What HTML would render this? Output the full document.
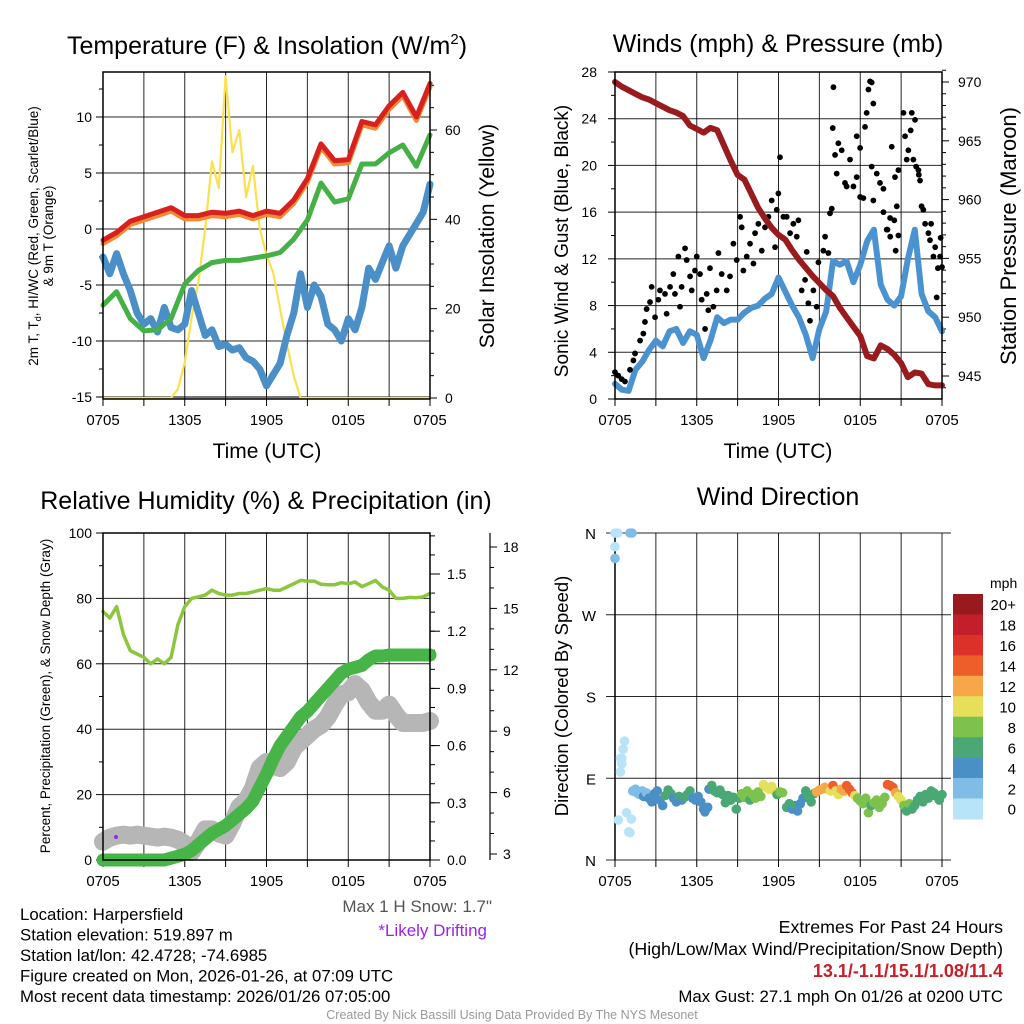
<!DOCTYPE html>
<html><head><meta charset="utf-8"><style>
html,body{margin:0;padding:0;background:#fff;}
svg{display:block;font-family:"Liberation Sans",Arial,sans-serif;}
</style></head><body>
<svg id="fig" width="1024" height="1024" viewBox="0 0 1024 1024">
<rect width="1024" height="1024" fill="#fff"/>
</svg>
<script>
// ---------- DATA ----------
const timeTickLabels = ["0705","1305","1905","0105","0705"];
const halfHours = [0,0.5,1,1.5,2,2.5,3,3.5,4,4.5,5,5.5,6,6.5,7,7.5,8,8.5,9,9.5,10,10.5,11,11.5,12,12.5,13,13.5,14,14.5,15,15.5,16,16.5,17,17.5,18,18.5,19,19.5,20,20.5,21,21.5,22,22.5,23,23.5,24];
const hours = [0,1,2,3,4,5,6,7,8,9,10,11,12,13,14,15,16,17,18,19,20,21,22,23,24];
// Panel 1
const temp2m = [-1.0,-0.3,0.7,1.1,1.5,1.9,1.2,1.2,1.5,1.4,1.6,1.2,1.6,1.4,2.6,4.5,7.6,6.1,6.2,9.6,9.3,11.0,12.2,10.0,13.0];
const temp9m = [-1.3,-0.6,0.4,0.8,1.2,1.6,0.9,0.9,1.2,1.1,1.3,0.9,1.3,1.1,2.3,4.2,7.3,5.8,5.9,9.3,9.0,10.7,11.9,9.7,12.7];
const dewpoint = [-6.8,-5.6,-8.0,-9.1,-9.0,-8.0,-4.9,-3.7,-3.0,-2.8,-2.8,-2.6,-2.4,-2.1,-0.9,0.8,4.1,2.4,2.7,5.8,5.8,6.8,7.5,5.6,8.4];
const windChill = [-2.5,-4.0,-2.2,-4.0,-5.5,-7.5,-8.5,-8.0,-9.2,-7.0,-8.8,-9.0,-8.5,-5.5,-7.5,-9.5,-9.0,-10.5,-10.3,-10.8,-10.6,-11.5,-11.8,-12.5,-14.0,-13.0,-12.0,-9.5,-7.5,-4.0,-7.0,-5.0,-6.0,-8.5,-9.0,-10.0,-8.0,-9.0,-7.0,-3.5,-4.5,-3.0,-1.5,-3.5,-1.5,-0.5,0.5,1.5,4.0];
const insolation = [0,0,0,0,0,0,0,0,0,0,0,2,8,18,26,38,53,47,72,55,60,45,52,38,32,28,20,12,5,0,0,0,0,0,0,0,0,0,0,0,0,0,0,0,0,0,0,0,0];
const tempTicks = [-15,-10,-5,0,5,10];
const solarTicks = [0,20,40,60];
// Panel 2
const sonicWind = [1.3,0.8,0.7,2.5,3.2,4.2,5.0,4.5,5.8,6.0,4.8,5.8,5.5,3.5,5.0,7.0,6.5,6.8,6.8,7.4,7.8,8.0,8.6,9.0,10.4,9.2,8.0,7.0,5.5,3.5,6.0,7.5,11.8,11.5,11.8,10.0,11.5,13.5,14.5,9.8,8.5,8.0,8.8,12.0,14.5,9.0,7.5,7.0,5.8];
const pressure = [970.0,969.6,969.3,969.0,968.7,968.5,968.2,967.9,967.6,967.4,967.1,966.3,966.0,965.7,966.1,965.9,964.6,963.3,962.1,961.7,960.5,959.3,958.4,957.6,957.0,956.6,955.7,954.9,954.2,953.5,952.9,952.3,951.8,950.8,950.0,949.2,948.4,946.7,946.5,947.6,947.3,946.8,946.1,944.9,945.3,945.2,944.3,944.2,944.2];
const gustTimes = [0,0.24,0.49,0.73,1.1,1.35,1.47,1.84,2.08,2.2,2.32,2.57,2.69,2.94,3.18,3.3,3.67,3.79,4.04,4.28,4.4,4.65,4.77,4.89,5.14,5.26,5.51,5.63,5.87,6.0,6.24,6.36,6.61,6.73,6.85,6.97,7.22,7.46,7.59,7.83,8.2,8.44,8.69,8.93,9.18,9.3,9.42,9.67,9.91,10.16,10.28,10.52,10.77,11.01,11.26,11.5,11.75,11.87,11.99,12.11,12.36,12.6,12.85,13.09,13.34,13.46,13.7,13.95,14.07,14.19,14.31,14.56,14.8,14.93,15.29,15.42,15.66,15.78,15.91,15.98,16.03,16.15,16.27,16.39,16.64,16.88,17.0,17.25,17.5,17.74,17.99,18.23,17.74,17.99,18.35,18.47,18.6,18.72,18.84,18.96,18.84,18.96,19.21,19.45,19.7,19.94,20.19,20.31,20.55,20.68,20.8,19.7,20.0,20.2,20.5,20.6,20.8,21.17,21.29,21.41,21.53,21.78,22.02,22.27,22.39,22.63,22.76,23.0,23.12,23.37,23.61,23.86,24.0,22.5,22.3,22.1,21.9,21.7,23.2,23.5,23.7,23.9];
const gustSpeeds = [2.3,2.0,1.7,1.5,2.5,3.3,3.9,5.0,5.6,6.6,7.7,8.3,9.6,7.0,8.5,9.3,9.0,7.3,9.6,10.7,9.0,12.2,7.9,9.6,12.9,11.9,10.5,9.3,11.0,12.2,10.7,8.5,6.0,9.0,7.6,11.2,7.9,9.3,12.5,10.7,9.3,10.5,13.3,11.9,15.6,14.7,11.0,12.2,13.3,11.6,14.2,15.0,12.7,14.7,15.6,17.0,13.0,16.2,17.6,20.7,15.6,15.6,14.2,15.0,13.9,15.3,9.3,10.2,12.6,8.2,6.7,9.3,7.9,11.7,12.7,13.9,12.5,15.9,16.3,23.2,26.7,20.9,19.3,21.9,21.3,18.5,18.2,20.5,18.2,19.0,17.3,17.2,22.5,21.5,23.3,24.5,26.5,27.2,27.1,25.3,19.9,17.0,19.3,18.5,18.0,14.5,15.5,21.6,19.0,16.5,19.6,16.0,14.5,13.9,15.3,12.7,14.0,24.5,22.5,20.5,21.3,24.5,23.9,19.6,18.7,16.2,15.0,14.2,13.6,12.2,8.7,12.2,11.3,16.5,19.2,19.9,20.5,23.0,15.0,13.0,11.2,13.8];
const windTicks = [0,4,8,12,16,20,24,28];
const pressTicks = [945,950,955,960,965,970];
// Panel 3
const relHum = [76,74,77.5,69,64,63,62,60,61.5,60,62,72,77.5,80,80.5,81,82.5,81.5,81,81,81.5,81.5,82,82.5,83,82.5,82.5,83.5,84.5,85.5,85.3,85.3,84.3,84.2,84.2,84.8,84.5,85,83.6,84.5,85.5,83.5,82.5,80,80,80.3,80.2,80.5,81.5];
const precip = [0,0,0,0,0,0,0,0,0,0,0.01,0.02,0.03,0.05,0.08,0.11,0.14,0.16,0.18,0.21,0.24,0.27,0.31,0.38,0.45,0.53,0.60,0.65,0.70,0.75,0.78,0.82,0.86,0.90,0.94,0.98,1.00,1.01,1.02,1.05,1.07,1.07,1.075,1.075,1.075,1.075,1.075,1.075,1.075];
const snowDepth = [3.6,3.8,3.9,3.95,3.9,3.95,3.9,3.85,3.8,3.85,3.8,3.7,3.5,3.1,3.6,4.2,4.2,4.0,3.9,4.5,5.3,5.6,6.2,7.2,7.5,7.3,7.2,7.5,8.2,8.5,8.8,9.1,9.3,9.7,10.3,10.8,10.9,11.3,11.0,10.4,10.0,10.0,10.3,9.8,9.4,9.4,9.4,9.4,9.5];
const rhTicks = [0,20,40,60,80,100];
const precipTicks = [0.0,0.3,0.6,0.9,1.2,1.5];
const snowTicks = [3,6,9,12,15,18];
// Panel 4
const dirTimes = [0,0.2,1.1,1.25,0,0,0.5,0.7,0.6,0.4,0.5,0.4,0.25,0.85,1.2,1.0,1.1,
1.3,1.5,1.6,1.8,2.0,2.1,2.3,2.5,2.7,2.9,3.1,3.3,3.5,3.7,3.9,4.1,4.3,4.5,4.7,4.9,5.1,5.3,5.5,5.7,5.9,6.1,6.3,6.5,6.6,6.8,6.9,7.1,7.3,7.5,7.7,7.9,8.1,8.3,8.5,8.7,8.9,9.1,9.3,9.5,9.7,9.9,10.1,10.3,10.5,10.7,10.9,11.1,11.3,11.5,11.7,11.9,12.1,12.3,12.6,12.8,13.0,13.2,13.4,13.6,13.8,14.0,14.2,14.4,14.6,14.8,15.0,15.2,15.4,15.6,15.8,16.0,16.2,16.4,16.6,16.8,17.0,17.2,17.4,17.6,17.8,18.0,18.2,18.4,18.6,18.8,19.0,19.2,19.4,19.6,19.8,20.0,20.2,20.4,20.6,20.8,21.0,21.2,21.4,21.6,21.8,22.0,22.2,22.4,22.6,22.8,23.0,23.2,23.4,23.6,23.8,24.0];
const dirDeg = [360,360,360,360,345,332,112,131,122,112,106,97,44,52,45,31,30,
76,78,74,72,76,70,74,68,64,73,76,66,60,71,77,73,68,64,70,66,69,72,76,68,66,70,64,56,53,58,78,82,76,74,77,72,63,71,66,69,56,68,73,69,76,66,72,68,75,70,83,80,78,81,76,72,75,74,58,62,56,60,54,62,68,76,70,64,73,75,77,78,80,78,76,82,76,72,78,76,82,78,74,71,68,65,62,68,52,60,63,66,58,62,69,83,82,80,74,70,66,60,54,62,56,60,66,70,64,72,68,76,74,70,66,72,76];
const dirSpeed = [1,1,2,2,1,3,1,1,1,1,1,1,1,1,1,1,1,
2,2,3,2,3,4,3,4,4,4,4,4,5,6,7,6,5,5,6,5,6,6,6,5,4,5,5,4,4,4,5,6,6,7,6,6,7,6,6,7,6,7,8,8,8,7,8,8,9,8,10,11,10,10,10,7,8,8,6,6,5,6,5,4,4,6,6,7,7,12,12,12,12,13,11,14,10,10,12,12,14,14,14,10,8,8,8,8,8,7,8,8,8,8,9,14,15,14,12,11,10,8,7,8,6,6,6,6,6,7,6,7,6,6,6,7,6];
const speedBinLabels = ["20+","18","16","14","12","10","8","6","4","2","0"];
const speedBinColors = ["#981a1e","#c21f2a","#dc3129","#ee5e2b","#f6a748","#e6df5a","#7dc24c","#4aa874","#4a8fc6","#80bde6","#b9e3f7"];

// ---------- HELPERS ----------
const NS="http://www.w3.org/2000/svg";
const svg=document.getElementById('fig');
function el(tag,attrs,parent,txt){const e=document.createElementNS(NS,tag);for(const k in attrs)e.setAttribute(k,attrs[k]);if(txt!==undefined)e.textContent=txt;(parent||svg).appendChild(e);return e;}
function grp(name){const g=el('g',{});return g;}
function lin(d0,d1,r0,r1){return v=>r0+(v-d0)*(r1-r0)/(d1-d0);}
function pathFrom(xs,ys,fx,fy){return xs.map((t,i)=>(i?'L':'M')+fx(t).toFixed(1)+' '+fy(ys[i]).toFixed(1)).join(' ');}

const X1=lin(0,24,103,430), X2=lin(0,24,615,942);
function timeAxis(g,X,top,bot){
  for(let h=0;h<=24;h+=3){
    el('line',{x1:X(h),x2:X(h),y1:top,y2:bot,stroke:'#000','stroke-width':1,'stroke-opacity':0.85},g);
    el('line',{x1:X(h),x2:X(h),y1:bot,y2:bot+7,stroke:'#000','stroke-width':1},g);
  }
  timeTickLabels.forEach((s,i)=>{const t=el('text',{x:X(i*6),y:bot+26,'font-size':15,'text-anchor':'middle'},g,s);
    });
}
function text(x,y,s,size,anchor,parent,extra){const a={x:x,y:y,'font-size':size,'text-anchor':anchor||'middle'};for(const k in (extra||{}))a[k]=extra[k];return el('text',a,parent,s);}

// ---------- PANEL 1 ----------
(function(){
  const g=grp('temperature-panel'); svg.appendChild(g);
  const Y=lin(0,10,229,117), YS=lin(0,60,398,130);
  const top=72,bot=399;
  el('rect',{x:103,y:396,width:327,height:3,fill:'#ccc'},g);
  timeAxis(g,X1,top,bot);
  tempTicks.forEach(v=>{el('line',{x1:103,x2:430,y1:Y(v),y2:Y(v),stroke:'#000','stroke-width':1,'stroke-opacity':0.85},g);
    el('line',{x1:96,x2:103,y1:Y(v),y2:Y(v),stroke:'#000'},g);
    const t=text(92,Y(v)+5,String(v),14,'end',g);});
  for(let v=-12.5;v<=12.5;v+=5) el('line',{x1:99,x2:103,y1:Y(v),y2:Y(v),stroke:'#000'},g);
  solarTicks.forEach(v=>{el('line',{x1:430,x2:437,y1:YS(v),y2:YS(v),stroke:'#000'},g);
    const t=text(445,YS(v)+5,String(v),14,'start',g);});
  for(let v=5;v<=70;v+=5) if(v%20) el('line',{x1:430,x2:434,y1:YS(v),y2:YS(v),stroke:'#000'},g);
  const ins=el('path',{d:pathFrom(halfHours,insolation,X1,YS),fill:'none',stroke:'#fbe04f','stroke-width':2.2,'stroke-linejoin':'round'},g);
  
  const wc=el('path',{d:pathFrom(halfHours,windChill,X1,Y),fill:'none',stroke:'#4a8fc8','stroke-width':7,'stroke-linejoin':'round','stroke-linecap':'round'},g);
  
  const dp=el('path',{d:pathFrom(hours,dewpoint,X1,Y),fill:'none',stroke:'#45b045','stroke-width':5,'stroke-linejoin':'round','stroke-linecap':'round'},g);
  
  const t9=el('path',{d:pathFrom(hours,temp9m,X1,Y),fill:'none',stroke:'#f58a32','stroke-width':5,'stroke-linejoin':'round','stroke-linecap':'round'},g);
  
  const t2=el('path',{d:pathFrom(hours,temp2m,X1,Y),fill:'none',stroke:'#d8211f','stroke-width':5,'stroke-linejoin':'round','stroke-linecap':'round'},g);
  
  el('rect',{x:103,y:top,width:327,height:bot-top,fill:'none',stroke:'#000','stroke-width':1.5},g);
  const ti=text(267,54,'Temperature (F) & Insolation (W/m',25,'middle',g);
  el('tspan',{dy:-10,'font-size':15},ti,'2');el('tspan',{dy:10},ti,')');
  
  const xl=text(267,458,'Time (UTC)',21,'middle',g);
  const yl=el('text',{transform:'translate(38,236) rotate(-90)','font-size':13.5,'text-anchor':'middle'},g);
  el('tspan',{x:0,y:0},yl,'2m T, T');el('tspan',{'font-size':9,dy:3},yl,'d');el('tspan',{dy:-3},yl,', HI/WC (Red, Green, Scarlet/Blue)');
  el('tspan',{x:0,y:15},yl,'& 9m T (Orange)');
  
  const yr=el('text',{transform:'translate(494,236) rotate(-90)','font-size':21,'text-anchor':'middle'},g,'Solar Insolation (Yellow)');
  
})();

// ---------- PANEL 2 ----------
(function(){
  const g=grp('winds-panel'); svg.appendChild(g);
  const Y=lin(0,28,399,72), YP=lin(945,970,376,82);
  const top=72,bot=399;
  timeAxis(g,X2,top,bot);
  windTicks.forEach(v=>{el('line',{x1:615,x2:942,y1:Y(v),y2:Y(v),stroke:'#000','stroke-width':1,'stroke-opacity':0.85},g);
    el('line',{x1:608,x2:615,y1:Y(v),y2:Y(v),stroke:'#000'},g);
    const t=text(597,Y(v)+5,String(v),14,'end',g);});
  for(let v=2;v<28;v+=4) el('line',{x1:611,x2:615,y1:Y(v),y2:Y(v),stroke:'#000'},g);
  pressTicks.forEach(v=>{el('line',{x1:942,x2:949,y1:YP(v),y2:YP(v),stroke:'#000'},g);
    const t=text(958,YP(v)+5,String(v),14,'start',g);});
  for(let v=944;v<=971;v++) if(v%5) el('line',{x1:942,x2:946,y1:YP(v),y2:YP(v),stroke:'#000'},g);
  const w=el('path',{d:pathFrom(halfHours,sonicWind,X2,Y),fill:'none',stroke:'#4b93d0','stroke-width':6,'stroke-linejoin':'round','stroke-linecap':'round'},g);
  
  const nG=Math.min(gustTimes.length,gustSpeeds.length);
  for(let i=0;i<nG;i++){const c=el('circle',{cx:X2(gustTimes[i]),cy:Y(gustSpeeds[i]),r:2.9,fill:'#000'},g);
    }
  const p=el('path',{d:pathFrom(halfHours,pressure,X2,YP),fill:'none',stroke:'#9a1b1e','stroke-width':6,'stroke-linejoin':'round','stroke-linecap':'round'},g);
  
  el('rect',{x:615,y:top,width:327,height:bot-top,fill:'none',stroke:'#000','stroke-width':1.5},g);
  const ti=text(778,52,'Winds (mph) & Pressure (mb)',25,'middle',g);
  const xl=text(778,458,'Time (UTC)',21,'middle',g);
  const yl=el('text',{transform:'translate(568,241) rotate(-90)','font-size':19,'text-anchor':'middle'},g,'Sonic Wind & Gust (Blue, Black)');
  
  const yr=el('text',{transform:'translate(1016,236) rotate(-90)','font-size':22,'text-anchor':'middle'},g,'Station Pressure (Maroon)');
  
})();

// ---------- PANEL 3 ----------
(function(){
  const g=grp('humidity-panel'); svg.appendChild(g);
  const Y=lin(0,100,860,533), YP=lin(0,1.5,860,574), YS=lin(3,18,854,547);
  const top=533,bot=860;
  timeAxis(g,X1,top,bot);
  rhTicks.forEach(v=>{el('line',{x1:103,x2:430,y1:Y(v),y2:Y(v),stroke:'#000','stroke-width':1,'stroke-opacity':0.85},g);
    el('line',{x1:96,x2:103,y1:Y(v),y2:Y(v),stroke:'#000'},g);
    const t=text(92,Y(v)+5,String(v),14,'end',g);});
  for(let v=10;v<100;v+=20) el('line',{x1:99,x2:103,y1:Y(v),y2:Y(v),stroke:'#000'},g);
  precipTicks.forEach(v=>{el('line',{x1:430,x2:440,y1:YP(v),y2:YP(v),stroke:'#000'},g);
    const t=text(447,YP(v)+5,v.toFixed(1),14,'start',g);});
  for(let v=0.1;v<1.75;v+=0.1) el('line',{x1:430,x2:435,y1:YP(v),y2:YP(v),stroke:'#000'},g);
  el('line',{x1:490,x2:490,y1:533,y2:860,stroke:'#000','stroke-width':1.2},g);
  snowTicks.forEach(v=>{el('line',{x1:490,x2:497,y1:YS(v),y2:YS(v),stroke:'#000'},g);
    const t=text(503,YS(v)+5,String(v),14,'start',g);});
  for(let v=4;v<19;v++) if(v%3) el('line',{x1:490,x2:494,y1:YS(v),y2:YS(v),stroke:'#000'},g);
  const s=el('path',{d:pathFrom(halfHours,snowDepth,X1,YS),fill:'none',stroke:'#b6b6b6','stroke-width':18,'stroke-linejoin':'round','stroke-linecap':'round'},g);
  
  const pr=el('path',{d:pathFrom(halfHours,precip,X1,YP),fill:'none',stroke:'#46b446','stroke-width':13,'stroke-linejoin':'round','stroke-linecap':'round'},g);
  
  const rh=el('path',{d:pathFrom(halfHours,relHum,X1,Y),fill:'none',stroke:'#8cc63f','stroke-width':3.5,'stroke-linejoin':'round','stroke-linecap':'round'},g);
  
  const dd=el('circle',{cx:116,cy:837,r:2,fill:'#a020f0'},g);
  el('rect',{x:103,y:top,width:327,height:bot-top,fill:'none',stroke:'#000','stroke-width':1.5},g);
  const ti=text(266,509,'Relative Humidity (%) & Precipitation (in)',25,'middle',g);
  const yl=el('text',{transform:'translate(50,696) rotate(-90)','font-size':13.5,'text-anchor':'middle'},g,'Percent, Precipitation (Green), & Snow Depth (Gray)');
  
  const m=text(492,912,'Max 1 H Snow: 1.7"',17,'end',g,{fill:'#555'});
  const d=text(487,936,'*Likely Drifting',17,'end',g,{fill:'#a020f0'});
})();

// ---------- PANEL 4 ----------
(function(){
  const g=grp('wind-direction-panel'); svg.appendChild(g);
  const Y=lin(0,360,860,533);
  const top=533,bot=860;
  timeAxis(g,X2,top,bot);
  const dirLabels=["N","E","S","W","N"];
  [0,90,180,270,360].forEach((v,i)=>{el('line',{x1:606,x2:951,y1:Y(v),y2:Y(v),stroke:'#000','stroke-width':1,'stroke-opacity':0.85},g);
    const t=text(596,Y(v)+6,dirLabels[i],15,'end',g);});
  el('line',{x1:615,x2:615,y1:top,y2:bot,stroke:'#000','stroke-width':1.5},g);
  function binColor(s){const idx=Math.min(10,Math.floor(s/2));return speedBinColors[10-idx];}
  const nD=Math.min(dirTimes.length,dirDeg.length,dirSpeed.length);
  for(let i=0;i<nD;i++){const c=el('circle',{cx:X2(dirTimes[i]),cy:Y(dirDeg[i]),r:4.8,fill:binColor(dirSpeed[i])},g);
    }
  const ti=text(778,505,'Wind Direction',25,'middle',g);
  const yl=el('text',{transform:'translate(568,696) rotate(-90)','font-size':18.5,'text-anchor':'middle'},g,'Direction (Colored By Speed)');
  
  const cb=grp('speed-colorbar'); g.appendChild(cb);
  const bh=20.45;
  speedBinColors.forEach((c,i)=>{el('rect',{x:953,y:594+i*bh,width:30,height:bh+0.5,fill:c},cb);
    const t=text(1016,594+i*bh+bh/2+6,speedBinLabels[i],15,'end',cb);});
  const u=text(990,588,'mph',14,'start',cb);
})();

// ---------- FOOTER TEXT ----------
(function(){
  const g=grp('station-info'); svg.appendChild(g);
  const lines=["Location: Harpersfield","Station elevation: 519.897 m","Station lat/lon: 42.4728; -74.6985","Figure created on Mon, 2026-01-26, at 07:09 UTC","Most recent data timestamp: 2026/01/26 07:05:00"];
  lines.forEach((s,i)=>{const t=text(20,920+i*20.5,s,16.8,'start',g);});
  const g2=grp('extremes-summary'); svg.appendChild(g2);
  let t=text(1003,933,'Extremes For Past 24 Hours',17.8,'end',g2);
  t=text(1003,955,'(High/Low/Max Wind/Precipitation/Snow Depth)',17.8,'end',g2);
  t=text(1003,977,'13.1/-1.1/15.1/1.08/11.4',18,'end',g2,{fill:'#c8202a','font-weight':'bold'});
  t=text(1003,1002,'Max Gust: 27.1 mph On 01/26 at 0200 UTC',16.8,'end',g2);
  t=text(512,1019,'Created By Nick Bassill Using Data Provided By The NYS Mesonet',12.5,'middle',svg,{fill:'#999'});
})();
</script>
</body></html>
